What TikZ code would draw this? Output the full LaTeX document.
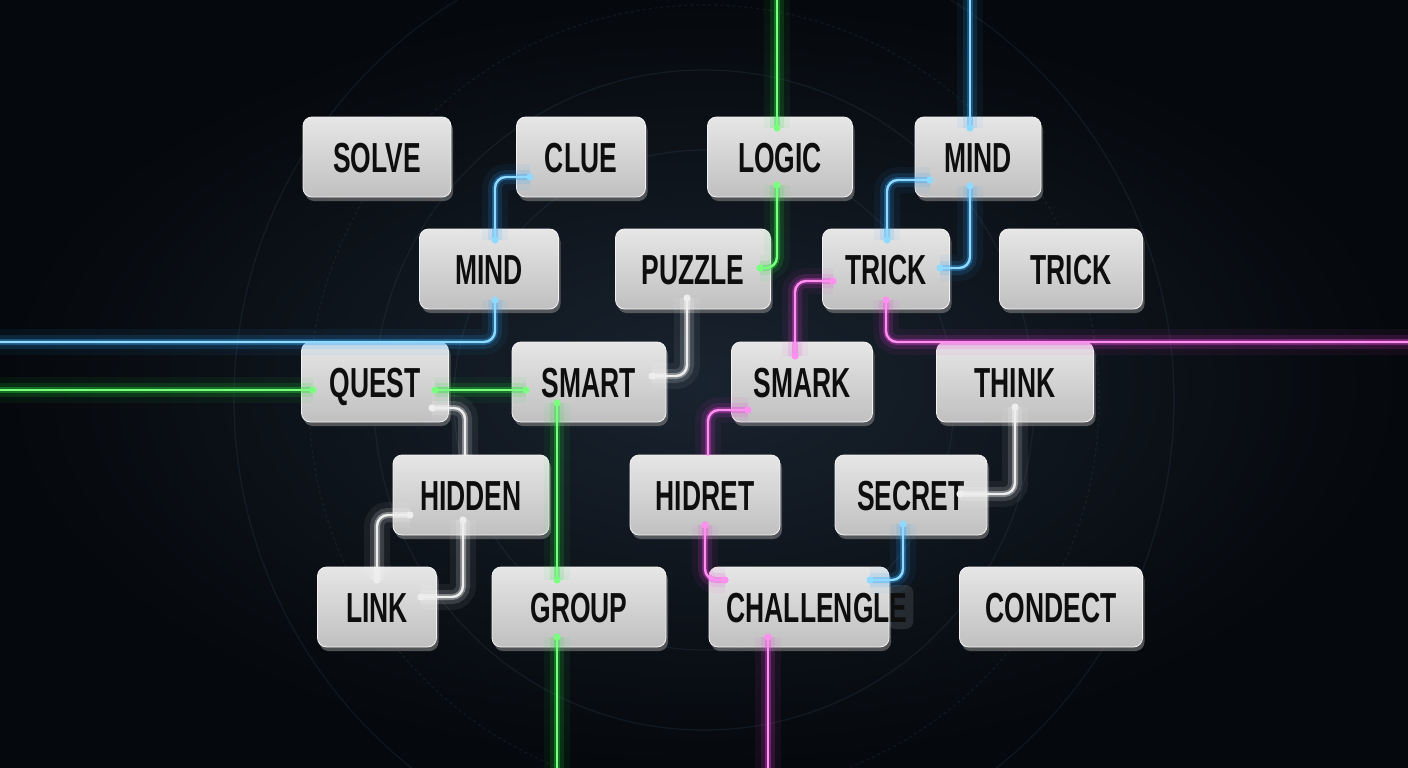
\documentclass[tikz,border=0pt]{standalone}
\usepackage{fontspec}
\newfontfamily\keyfont{Liberation Sans}[FakeStretch=0.63]
\usetikzlibrary{shadows}
\definecolor{bgin}{HTML}{19232F}
\definecolor{bgout}{HTML}{05080C}
\definecolor{bgline}{HTML}{4A6580}
\definecolor{keytop}{HTML}{E6E6E6}
\definecolor{keybot}{HTML}{C0C0C0}
\definecolor{keyedge}{HTML}{F2F2F2}
\definecolor{keyink}{HTML}{0E0E0E}
\definecolor{bluecore}{HTML}{90DAFF}
\definecolor{blueglow}{HTML}{2FA8FF}
\definecolor{greencore}{HTML}{7CFF80}
\definecolor{greenglow}{HTML}{22E038}
\definecolor{pinkcore}{HTML}{FF90F0}
\definecolor{pinkglow}{HTML}{F040E0}
\definecolor{whitecore}{HTML}{EEEEEE}
\definecolor{whiteglow}{HTML}{FFFFFF}
\tikzset{
  keybox/.style={draw=keyedge, line width=0.8, rounded corners=9,
    top color=keytop, bottom color=keybot, minimum height=80, inner sep=0,
    text=keyink, text height=30.5pt, text depth=0pt,
    font={\keyfont\bfseries\fontsize{42}{48}\selectfont},
    drop shadow={opacity=.6, shadow xshift=2pt, shadow yshift=-4pt}},
  keytext/.style={text=keyink, inner sep=0, text height=30.5pt, text depth=0pt,
    font={\keyfont\bfseries\fontsize{42}{48}\selectfont}},
  wire/.style={line width=2.4, draw=#1core, rounded corners=11, line cap=round,
    preaction={draw=#1glow, line width=26, opacity=.06},
    preaction={draw=#1glow, line width=14, opacity=.14},
    preaction={draw=#1glow, line width=6, opacity=.35}},
  bgarc/.style={draw=bgline, line width=1.2, opacity=.16}
}

\begin{document}
\begin{tikzpicture}[x=1pt,y=-1pt]
\useasboundingbox (0,0) rectangle (1408,768);
\fill[inner color=bgin, outer color=bgout] (0,0) rectangle (1408,768);

% faint circuit rings
\draw[bgarc] (704,400) circle[radius=250];
\draw[bgarc] (704,400) circle[radius=330];
\draw[bgarc, dashed] (704,400) circle[radius=395];
\draw[bgarc] (704,400) circle[radius=470];

% keys, row by row
\node[keybox, minimum width=148] (solve) at (377,157) {SOLVE};
\node[keybox, minimum width=129] (clue) at (581,157) {CLUE};
\node[keybox, minimum width=145] (logic) at (780,157) {LOGIC};
\node[keybox, minimum width=126] (mindB) at (978,157) {MIND};

\node[keybox, minimum width=139] (mindA) at (489,269) {MIND};
\node[keybox, minimum width=155] (puzzle) at (693,269) {PUZZLE};
\node[keybox, minimum width=127] (trickA) at (886,269) {TRICK};
\node[keybox, minimum width=143] (trickB) at (1071,269) {TRICK};

\node[keybox, minimum width=147] (quest) at (375,382) {QUEST};
\node[keybox, minimum width=154] (smart) at (589,382) {SMART};
\node[keybox, minimum width=141] (smark) at (802,382) {SMARK};
\node[keybox, minimum width=157] (think) at (1015,382) {THINK};

\node[keybox, minimum width=156] (hidden) at (471,495) {HIDDEN};
\node[keybox, minimum width=150] (hidret) at (705,495) {HIDRET};
\node[keybox, minimum width=152] (secret) at (911,495) {SECRET};

\node[keybox, minimum width=119] (link) at (377,607) {LINK};
\node[keybox, minimum width=174] (group) at (579,607) {GROUP};
\node[keybox, minimum width=180] (challengle) at (799,607) {};
\fill[keytop, opacity=.12, rounded corners=8] ([shift={(-2,-22)}]challengle.east) rectangle ([shift={(24,22)}]challengle.east);
\node[keytext] (challengleT) at ([xshift=18]challengle.center) {CHALLENGLE};
\node[keybox, minimum width=183] (condect) at (1051,607) {CONDECT};

% wire ends
\coordinate (westB) at (0,342);
\coordinate (westG) at (0,390);
\coordinate (eastP) at (1408,342);
\coordinate (topG) at (777,0);
\coordinate (topB) at (970,0);
\coordinate (botG) at (557,768);
\coordinate (botP) at (768,768);

\coordinate (mA-s) at ([shift={(6,31)}]mindA.center);
\coordinate (mA-n) at ([shift={(6,-29)}]mindA.center);
\coordinate (clue-w) at ([shift={(-51,20)}]clue.center);
\coordinate (q-w) at ([shift={(-62,8)}]quest.center);
\coordinate (q-e) at ([shift={(60,8)}]quest.center);
\coordinate (q-se) at ([shift={(57,26)}]quest.center);
\coordinate (s-w) at ([shift={(-63,8)}]smart.center);
\coordinate (s-s) at ([shift={(-32,21)}]smart.center);
\coordinate (s-e) at ([shift={(63,-6)}]smart.center);
\coordinate (g-n) at ([shift={(-22,-27)}]group.center);
\coordinate (g-s) at ([shift={(-22,30)}]group.center);
\coordinate (l-n) at ([shift={(-3,-29)}]logic.center);
\coordinate (l-s) at ([shift={(-3,28)}]logic.center);
\coordinate (p-e) at ([shift={(67,-1)}]puzzle.center);
\coordinate (p-s) at ([shift={(-6,29)}]puzzle.center);
\coordinate (mB-n) at ([shift={(-8,-29)}]mindB.center);
\coordinate (mB-s) at ([shift={(-8,29)}]mindB.center);
\coordinate (mB-w) at ([shift={(-48,23)}]mindB.center);
\coordinate (t-e) at ([shift={(54,-1)}]trickA.center);
\coordinate (t-n) at ([shift={(1,-29)}]trickA.center);
\coordinate (t-w) at ([shift={(-53,12)}]trickA.center);
\coordinate (t-s) at ([shift={(0,31)}]trickA.center);
\coordinate (sk-n) at ([shift={(-7,-26)}]smark.center);
\coordinate (sk-w) at ([shift={(-54,28)}]smark.center);
\coordinate (h-n) at ([shift={(3,-40)}]hidret.center);
\coordinate (h-s) at ([shift={(0,30)}]hidret.center);
\coordinate (c-w) at ([shift={(-74,-27)}]challengle.center);
\coordinate (c-e) at ([shift={(71,-27)}]challengle.center);
\coordinate (c-s) at ([shift={(-31,30)}]challengle.center);
\coordinate (th-s) at ([shift={(0,25)}]think.center);
\coordinate (se-e) at ([shift={(49,-1)}]secret.center);
\coordinate (se-s) at ([shift={(-8,29)}]secret.center);
\coordinate (hd-n) at ([shift={(-6,-40)}]hidden.center);
\coordinate (hd-w) at ([shift={(-61,20)}]hidden.center);
\coordinate (hd-s) at ([shift={(-8,25)}]hidden.center);
\coordinate (lk-n) at ([shift={(0,-27)}]link.center);
\coordinate (lk-e) at ([shift={(44,-10)}]link.center);

% glowing wires
\draw[wire=blue] (westB) -| (mA-s);
\draw[wire=blue] (mA-n) |- (clue-w);
\draw[wire=green] (westG) -- (q-w);
\draw[wire=green] (q-e) -- (s-w);
\draw[wire=green] (s-s) -- (g-n);
\draw[wire=green] (g-s) -- (botG);
\draw[wire=green] (topG) -- (l-n);
\draw[wire=green] (l-s) |- (p-e);
\draw[wire=white] (p-s) |- (s-e);
\draw[wire=blue] (topB) -- (mB-n);
\draw[wire=blue] (mB-s) |- (t-e);
\draw[wire=blue] (mB-w) -| (t-n);
\draw[wire=pink] (t-w) -| (sk-n);
\draw[wire=pink] (t-s) |- (eastP);
\draw[wire=pink] (sk-w) -| (h-n);
\draw[wire=pink] (h-s) |- (c-w);
\draw[wire=pink] (c-s) -- (botP);
\draw[wire=white] (th-s) |- (se-e);
\draw[wire=blue] (se-s) |- (c-e);
\draw[wire=white] (q-se) -| (hd-n);
\draw[wire=white] (hd-w) -| (lk-n);
\draw[wire=white] (hd-s) |- (lk-e);

% dots
\foreach \p/\c in {mA-s/blue, mA-n/blue, clue-w/blue, q-w/green, q-e/green, s-w/green,
    s-s/green, s-e/white, g-n/green, g-s/green, l-n/green, l-s/green, p-e/green,
    p-s/white, mB-n/blue, mB-s/blue, mB-w/blue, t-e/blue, t-n/blue, t-w/pink,
    t-s/pink, sk-n/pink, sk-w/pink, h-s/pink, c-w/pink, c-e/blue, c-s/pink,
    th-s/white, se-e/white, se-s/blue, hd-w/white, hd-s/white, lk-n/white,
    lk-e/white, q-se/white}
  \fill[\c core] (\p) circle[radius=3.6];
\end{tikzpicture}
\end{document}
